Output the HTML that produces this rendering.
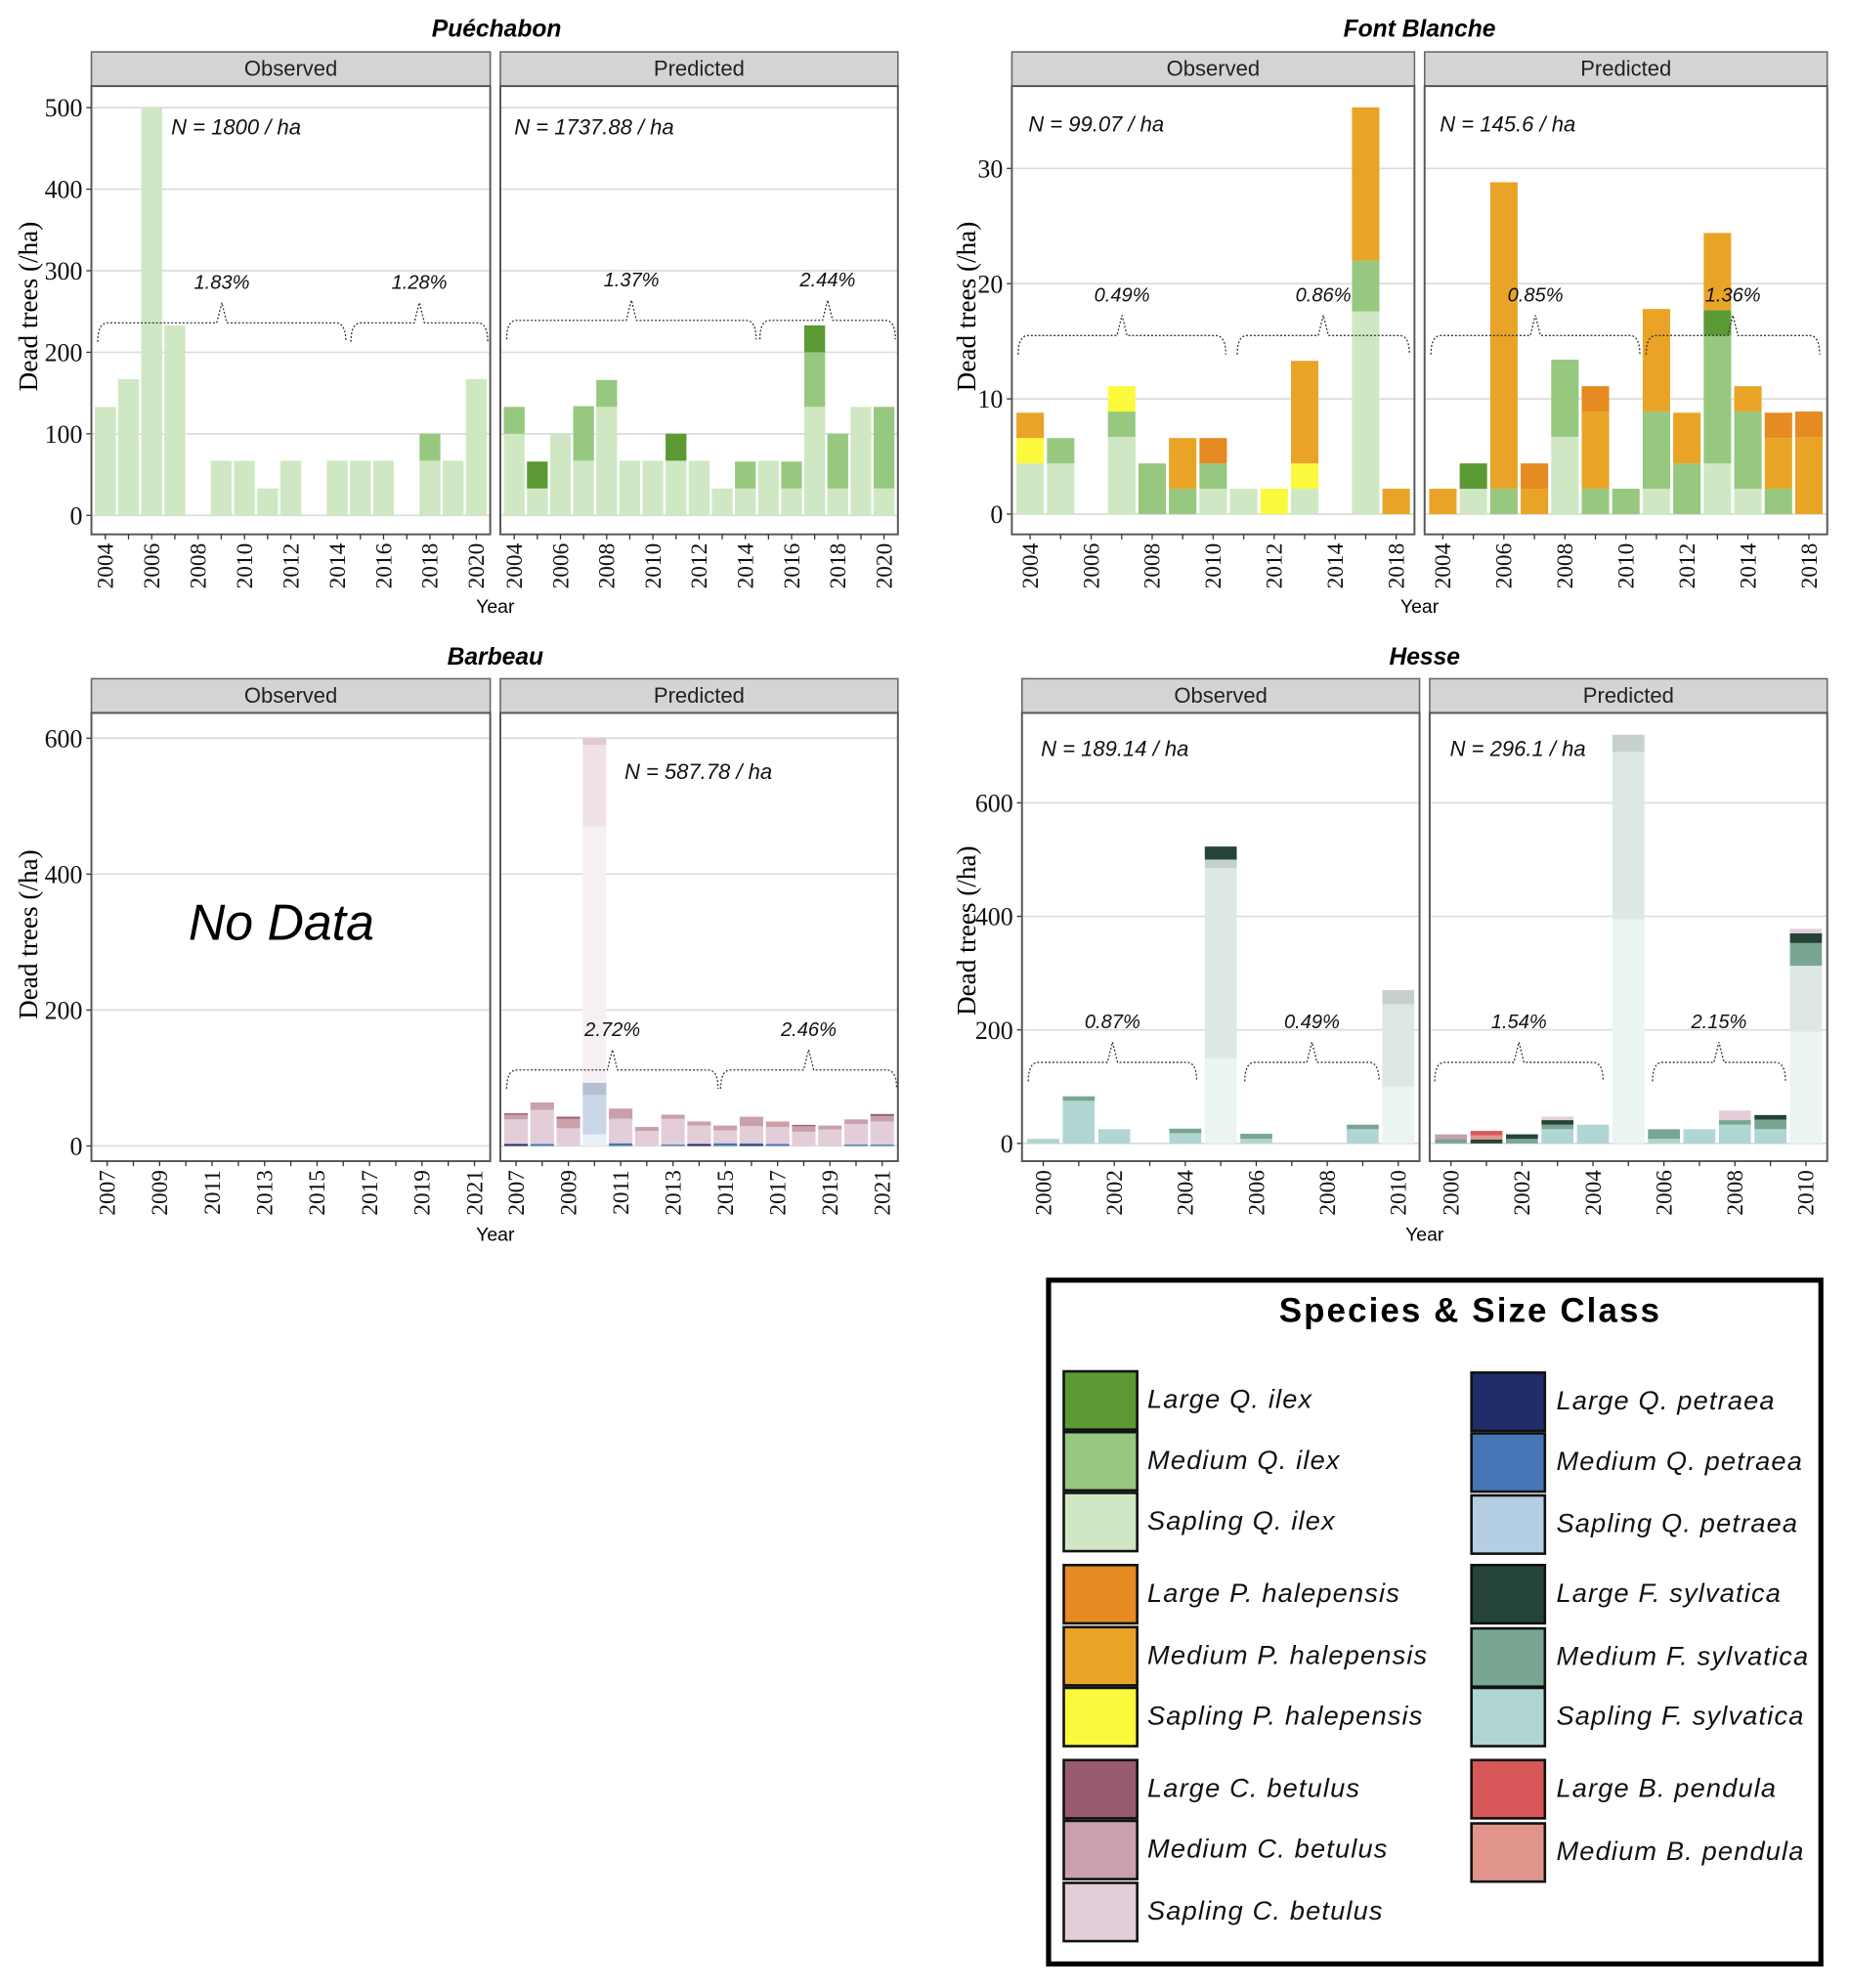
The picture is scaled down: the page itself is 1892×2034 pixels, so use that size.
<!DOCTYPE html>
<html><head><meta charset="utf-8"><style>
html,body{margin:0;padding:0;background:#fff;}
svg{display:block;}
</style></head><body>
<svg id="fig" width="1892" height="2034" viewBox="0 0 1460 1570" xmlns="http://www.w3.org/2000/svg">
<rect x="0" y="0" width="1460" height="1570" fill="#fff"/>
<g id="charts"></g>
<g id="legend">
<rect x="828" y="1011" width="610" height="540" fill="#fff" stroke="#000" stroke-width="4"/>
<text x="1161" y="1044" text-anchor="middle" font-family="Liberation Sans, sans-serif" font-weight="bold" font-size="27" letter-spacing="1.6">Species &amp; Size Class</text>
</g>
</svg>
<script>
// ---------- data ----------
const pueCats = ["2004","2005","2006","2007","2008","2009","2010","2011","2012","2013","2014","2015","2016","2017","2018","2019","2020"];
const pueObsSap = [133,167,500,233,0,67,67,33,67,0,67,67,67,0,67,67,167];
const pueObsMed = [0,0,0,0,0,0,0,0,0,0,0,0,0,0,33,0,0];
const puePredSap = [100,33,100,67,133,67,67,67,67,33,33,67,33,133,33,133,33];
const puePredMed = [33,0,0,67,33,0,0,0,0,0,33,0,33,67,67,0,100];
const puePredLarge = [0,33,0,0,0,0,0,33,0,0,0,0,0,33,0,0,0];

const fbCats = ["2004","2005","2006","2007","2008","2009","2010","2011","2012","2013","2014","2016","2018"];
const fbObsSQ = [4.4,4.4,0,6.7,0,0,2.2,2.2,0,2.2,0,17.6,0];
const fbObsMQ = [0,2.2,0,2.2,4.4,2.2,2.2,0,0,0,0,4.4,0];
const fbObsSP = [2.2,0,0,2.2,0,0,0,0,2.2,2.2,0,0,0];
const fbObsMP = [2.2,0,0,0,0,4.4,0,0,0,8.9,0,13.3,2.2];
const fbObsLP = [0,0,0,0,0,0,2.2,0,0,0,0,0,0];
const fbPredSQ = [0,2.2,0,0,6.7,0,0,2.2,0,4.4,2.2,0,0];
const fbPredMQ = [0,0,2.2,0,6.7,2.2,2.2,6.7,4.4,11.1,6.7,2.2,0];
const fbPredLQ = [0,2.2,0,0,0,0,0,0,0,2.2,0,0,0];
const fbPredMP = [2.2,0,26.6,2.2,0,6.7,0,8.9,4.4,6.7,2.2,4.4,6.7];
const fbPredLP = [0,0,0,2.2,0,2.2,0,0,0,0,0,2.2,2.2];

const barCats = ["2007","2008","2009","2010","2011","2012","2013","2014","2015","2016","2017","2018","2019","2020","2021"];
const barFadedSQP = [0,0,0,17,0,0,0,0,0,0,0,0,0,0,0];
const barFadedMQP = [0,0,0,58,0,0,0,0,0,0,0,0,0,0,0];
const barFadedLQP = [0,0,0,18,0,0,0,0,0,0,0,0,0,0,0];
const barFadedSC = [0,0,0,377,0,0,0,0,0,0,0,0,0,0,0];
const barFadedMC = [0,0,0,120,0,0,0,0,0,0,0,0,0,0,0];
const barFadedLC = [0,0,0,11,0,0,0,0,0,0,0,0,0,0,0];
const barLQP = [3,0,0,0,0,0,0,3,0,2,0,0,0,0,0];
const barMQP = [0,3,0,0,4,0,2,0,4,2,3,0,0,2,2];
const barSC = [36,50,26,0,36,22,38,27,19,25,25,21,24,30,34];
const barMC = [7,11,14,0,15,6,6,6,7,14,8,8,6,7,8];
const barLC = [2,0,3,0,0,0,0,0,0,0,0,2,0,0,3];

const hesCats = ["2000","2001","2002","2003","2004","2005","2006","2007","2008","2009","2010"];
const hesObsFS = [0,0,0,0,0,150,0,0,0,0,100];
const hesObsFM = [0,0,0,0,0,335,0,0,0,0,145];
const hesObsFL = [0,0,0,0,0,15,0,0,0,0,25];
const hesObsSF = [8,75,25,0,18,0,8,0,0,25,0];
const hesObsMF = [0,8,0,0,8,0,9,0,0,8,0];
const hesObsLF = [0,0,0,0,0,23,0,0,0,0,0];
const hesPredFS = [0,0,0,0,0,395,0,0,0,0,197];
const hesPredFM = [0,0,0,0,0,295,0,0,0,0,116];
const hesPredFL = [0,0,0,0,0,30,0,0,0,0,0];
const hesPredSF = [0,0,0,25,33,0,8,25,33,25,0];
const hesPredMF = [8,0,8,8,0,0,17,0,8,17,40];
const hesPredLF = [0,7,8,8,0,0,0,0,0,8,17];
const hesPredMB = [0,7,0,0,0,0,0,0,0,0,0];
const hesPredLB = [0,8,0,0,0,0,0,0,0,0,0];
const hesPredSC = [0,0,0,6,0,0,0,0,17,0,8];
const hesPredMC = [8,0,0,0,0,0,0,0,0,0,0];

const C = {LQi:"#5b9a33",MQi:"#97c87f",SQi:"#cfe8c3",LP:"#e68a22",MP:"#e9a428",SP:"#fbf93b",
 LC:"#9a5a72",MC:"#c9a0ab",SC:"#e3cdd9",LQp:"#1f2e68",MQp:"#4676b6",SQp:"#b4cfe4",
 LF:"#244437",MF:"#79a693",SF:"#afd6d2",LB:"#d85859",MB:"#e0948a"};

const NS="http://www.w3.org/2000/svg";
const root=document.getElementById('charts');
function el(tag,attrs,parent,txt){const e=document.createElementNS(NS,tag);for(const k in attrs)e.setAttribute(k,attrs[k]);if(txt!==undefined)e.textContent=txt;(parent||root).appendChild(e);return e;}

function brace(g,x1,x2,yH,yEnd,yPeak){
  const cx=(x1+x2)/2;
  const p=el('path',{d:`M${x1},${yEnd} Q${x1},${yH} ${x1+8},${yH} L${cx-4},${yH} L${cx},${yPeak} L${cx+4},${yH} L${x2-8},${yH} Q${x2},${yH} ${x2},${yEnd}`,fill:'none',stroke:'#333','stroke-width':1,'stroke-dasharray':'1.5,1.5'},g);
  
  
}

function panel(cfg){
  const g=el('g',{},root);
  
  
  const {x0,x1,top,bot,zero,k,cats,series}=cfg;
  const y=v=>zero-v*k;
  const n=cats.length, slot=(x1-x0)/(n-1+1.2);
  const xc=i=>x0+slot*(0.6+i);
  const st=el('rect',{x:x0,y:top-27,width:x1-x0,height:27,fill:'#d4d4d4',stroke:'#666','stroke-width':1.2},g);
  
  
  const stt=el('text',{x:(x0+x1)/2,y:top-8,'text-anchor':'middle','font-family':'Liberation Sans, sans-serif','font-size':17,fill:'#222'},g,cfg.strip);
  
  
  cfg.grid.forEach(v=>{
    const gl=el('line',{x1:x0,x2:x1,y1:y(v),y2:y(v),stroke:'#dcdcdc','stroke-width':1.3},g);
    
    
    if(cfg.yLabels){
      const t=el('text',{x:x0-7,y:y(v)+7,'text-anchor':'end','font-family':'Liberation Serif, serif','font-size':20,fill:'#111'},g,String(v));
      
      
      el('line',{x1:x0-4,x2:x0,y1:y(v),y2:y(v),stroke:'#333'},g);
    }
  });
  if(series){
    for(let i=0;i<n;i++){
      let acc=0;
      series.forEach(s=>{
        const v=s.values[i]; if(!v) return;
        const r=el('rect',{x:xc(i)-slot*0.45,width:slot*0.9,y:y(acc+v),height:v*k,fill:s.color},g);
        
        
        acc+=v;
      });
    }
  }
  const fr=el('rect',{x:x0,y:top,width:x1-x0,height:bot-top,fill:'none',stroke:'#555','stroke-width':1.5},g);
  
  
  for(let i=0;i<n;i++){
    el('line',{x1:xc(i),x2:xc(i),y1:bot,y2:bot+4,stroke:'#333'},g);
    if(i%2) continue;
    const t=el('text',{x:0,y:0,transform:`translate(${xc(i)+6},${bot+7}) rotate(-90)`,'text-anchor':'end','font-family':'Liberation Serif, serif','font-size':18,fill:'#111'},g,cats[i]);
    
    
  }
  if(cfg.N){
    const t=el('text',{x:cfg.N[1],y:cfg.N[2],'font-family':'Liberation Sans, sans-serif','font-style':'italic','font-size':17,fill:'#111'},g,cfg.N[0]);
    
    
  }
  (cfg.braces||[]).forEach(b=>{
    brace(g,b[0],b[1],b[2],b[2]+15,b[2]-16);
    const t=el('text',{x:(b[0]+b[1])/2,y:b[2]-27,'text-anchor':'middle','font-family':'Liberation Sans, sans-serif','font-style':'italic','font-size':15.5,fill:'#111'},g,b[3]);
    
    
  });
  return g;
}
function txt(x,y,s,attrs,name){
  const t=el('text',Object.assign({x:x,y:y},attrs),root,s);
  
  
}
const titleA={'text-anchor':'middle','font-family':'Liberation Sans, sans-serif','font-weight':'bold','font-style':'italic','font-size':19};
const yTitle=(x,cy)=>{const t=el('text',{x:0,y:0,transform:`translate(${x},${cy}) rotate(-90)`,'text-anchor':'middle','font-family':'Liberation Serif, serif','font-size':21},root,'Dead trees (/ha)');
 
 };
const yearA={'text-anchor':'middle','font-family':'Liberation Sans, sans-serif','font-size':15};

txt(392,29,'Puéchabon',titleA,'chart-title-puechabon');
panel({name:'puechabon-observed',strip:'Observed',x0:72,x1:387,top:68,bot:422,zero:407,k:0.644,cats:pueCats,grid:[0,100,200,300,400,500],yLabels:true,
 series:[{key:'sapling-q-ilex',color:C.SQi,values:pueObsSap},{key:'medium-q-ilex',color:C.MQi,values:pueObsMed}],
 N:['N = 1800 / ha',135,106],braces:[[77,273,255,'1.83%'],[277,385,255,'1.28%']]});
panel({name:'puechabon-predicted',strip:'Predicted',x0:395,x1:709,top:68,bot:422,zero:407,k:0.644,cats:pueCats,grid:[0,100,200,300,400,500],
 series:[{key:'sapling-q-ilex',color:C.SQi,values:puePredSap},{key:'medium-q-ilex',color:C.MQi,values:puePredMed},{key:'large-q-ilex',color:C.LQi,values:puePredLarge}],
 N:['N = 1737.88 / ha',406,106],braces:[[400,597,253,'1.37%'],[600,707,253,'2.44%']]});
yTitle(29,242); txt(391,484,'Year',yearA,'x-axis-title');

txt(1121,29,'Font Blanche',titleA,'chart-title-font-blanche');
const fbObsSeries=[{key:'sapling-q-ilex',color:C.SQi,values:fbObsSQ},{key:'medium-q-ilex',color:C.MQi,values:fbObsMQ},{key:'sapling-p-halepensis',color:C.SP,values:fbObsSP},{key:'medium-p-halepensis',color:C.MP,values:fbObsMP},{key:'large-p-halepensis',color:C.LP,values:fbObsLP}];
panel({name:'font-blanche-observed',strip:'Observed',x0:799,x1:1117,top:68,bot:422,zero:406,k:9.1,cats:fbCats,grid:[0,10,20,30],yLabels:true,series:fbObsSeries,
 N:['N = 99.07 / ha',812,104],braces:[[804,968,265,'0.49%'],[977,1113,265,'0.86%']]});
panel({name:'font-blanche-predicted',strip:'Predicted',x0:1125,x1:1443,top:68,bot:422,zero:406,k:9.1,cats:fbCats,grid:[0,10,20,30],
 series:[{key:'sapling-q-ilex',color:C.SQi,values:fbPredSQ},{key:'medium-q-ilex',color:C.MQi,values:fbPredMQ},{key:'large-q-ilex',color:C.LQi,values:fbPredLQ},{key:'medium-p-halepensis',color:C.MP,values:fbPredMP},{key:'large-p-halepensis',color:C.LP,values:fbPredLP}],
 N:['N = 145.6 / ha',1137,104],braces:[[1130,1295,265,'0.85%'],[1300,1437,265,'1.36%']]});
yTitle(770,242); txt(1121,484,'Year',yearA,'x-axis-title');

txt(391,525,'Barbeau',titleA,'chart-title-barbeau');
panel({name:'barbeau-observed',strip:'Observed',x0:72,x1:387,top:563,bot:917,zero:905,k:0.5367,cats:barCats,grid:[0,200,400,600],yLabels:true,series:null});
txt(222,742,'No Data',{'text-anchor':'middle','font-family':'Liberation Sans, sans-serif','font-style':'italic','font-size':40,fill:'#000'},'no-data-label');
panel({name:'barbeau-predicted',strip:'Predicted',x0:395,x1:709,top:563,bot:917,zero:905,k:0.5367,cats:barCats,grid:[0,200,400,600],
 series:[{key:'faded-sapling-q-petraea',color:'#e8f0f8',values:barFadedSQP},{key:'faded-medium-q-petraea',color:'#c9d7e8',values:barFadedMQP},{key:'faded-large-q-petraea',color:'#b7bfd2',values:barFadedLQP},
 {key:'faded-sapling-c-betulus',color:'#f6f0f4',values:barFadedSC},{key:'faded-medium-c-betulus',color:'#f0e2e8',values:barFadedMC},{key:'faded-large-c-betulus',color:'#e3c9d3',values:barFadedLC},
 {key:'large-q-petraea',color:C.LQp,values:barLQP},{key:'medium-q-petraea',color:C.MQp,values:barMQP},{key:'sapling-c-betulus',color:C.SC,values:barSC},{key:'medium-c-betulus',color:C.MC,values:barMC},{key:'large-c-betulus',color:C.LC,values:barLC}],
 N:['N = 587.78 / ha',493,615],braces:[[400,567,845,'2.72%'],[569,708,845,'2.46%']]});
yTitle(29,738); txt(391,980,'Year',yearA,'x-axis-title');

txt(1125,525,'Hesse',titleA,'chart-title-hesse');
panel({name:'hesse-observed',strip:'Observed',x0:807,x1:1121,top:563,bot:917,zero:903,k:0.4483,cats:hesCats,grid:[0,200,400,600],yLabels:true,
 series:[{key:'faded-sapling-f-sylvatica',color:'#eaf4f2',values:hesObsFS},{key:'faded-medium-f-sylvatica',color:'#dde8e5',values:hesObsFM},{key:'faded-large-f-sylvatica',color:'#c6d1cd',values:hesObsFL},
 {key:'sapling-f-sylvatica',color:C.SF,values:hesObsSF},{key:'medium-f-sylvatica',color:C.MF,values:hesObsMF},{key:'large-f-sylvatica',color:C.LF,values:hesObsLF}],
 N:['N = 189.14 / ha',822,597],braces:[[812,945,839,'0.87%'],[983,1089,839,'0.49%']]});
panel({name:'hesse-predicted',strip:'Predicted',x0:1129,x1:1443,top:563,bot:917,zero:903,k:0.4483,cats:hesCats,grid:[0,200,400,600],
 series:[{key:'faded-sapling-f-sylvatica',color:'#eaf4f2',values:hesPredFS},{key:'faded-medium-f-sylvatica',color:'#dde8e5',values:hesPredFM},{key:'faded-large-f-sylvatica',color:'#c6d1cd',values:hesPredFL},
 {key:'sapling-f-sylvatica',color:C.SF,values:hesPredSF},{key:'medium-f-sylvatica',color:C.MF,values:hesPredMF},{key:'large-f-sylvatica',color:C.LF,values:hesPredLF},
 {key:'medium-b-pendula',color:C.MB,values:hesPredMB},{key:'large-b-pendula',color:C.LB,values:hesPredLB},{key:'sapling-c-betulus',color:C.SC,values:hesPredSC},{key:'medium-c-betulus',color:C.MC,values:hesPredMC}],
 N:['N = 296.1 / ha',1145,597],braces:[[1133,1266,839,'1.54%'],[1305,1410,839,'2.15%']]});
yTitle(770,735); txt(1125,980,'Year',yearA,'x-axis-title');

const legLeft=[["Large Q. ilex",C.LQi,1106],["Medium Q. ilex",C.MQi,1154],["Sapling Q. ilex",C.SQi,1202],
 ["Large P. halepensis",C.LP,1259],["Medium P. halepensis",C.MP,1308],["Sapling P. halepensis",C.SP,1356],
 ["Large C. betulus",C.LC,1413],["Medium C. betulus",C.MC,1461],["Sapling C. betulus",C.SC,1510]];
const legRight=[["Large Q. petraea",C.LQp,1107],["Medium Q. petraea",C.MQp,1155],["Sapling Q. petraea",C.SQp,1204],
 ["Large F. sylvatica",C.LF,1259],["Medium F. sylvatica",C.MF,1309],["Sapling F. sylvatica",C.SF,1356],
 ["Large B. pendula",C.LB,1413],["Medium B. pendula",C.MB,1463]];
const lg=document.getElementById('legend');
function legItem(item,sx,tx){
  const r=el('rect',{x:sx,y:item[2]-23,width:58,height:46,fill:item[1],stroke:'#111','stroke-width':2},lg);
  
  
  const t=el('text',{x:tx,y:item[2]+6,'font-family':'Liberation Sans, sans-serif','font-style':'italic','font-size':21,'letter-spacing':0.9,fill:'#111'},lg,item[0]);
  
  
}
legLeft.forEach(it=>legItem(it,840,906));
legRight.forEach(it=>legItem(it,1162,1229));
</script>
</body></html>
